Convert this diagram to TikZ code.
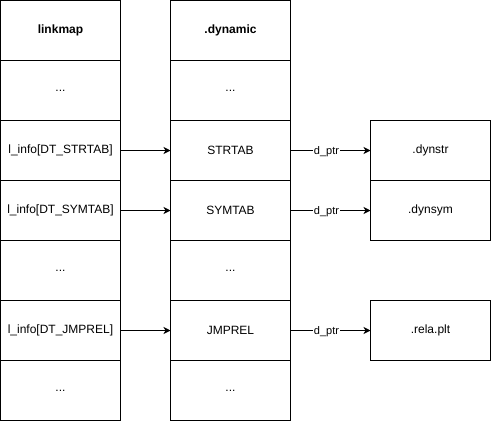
\documentclass[tikz,border=0pt]{standalone}
\usepackage{fontspec}
\setmainfont{Liberation Sans}
\usetikzlibrary{arrows.meta}
\begin{document}
\begin{tikzpicture}[x=1pt,y=-1pt,
  cell/.style={draw=black,line width=1pt,minimum width=120pt,minimum height=60pt,inner sep=0pt,outer sep=0pt,font=\fontsize{12}{14}\selectfont},
  head/.style={cell,font=\fontsize{12}{14}\selectfont\bfseries},
  conn/.style={line width=1pt,-{Stealth[length=7pt,width=7pt,inset=2pt]}},
  lbl/.style={fill=white,inner sep=1pt,pos=0.45,yshift=-1pt,font=\fontsize{11}{13}\selectfont}]
\useasboundingbox (0,0) rectangle (491,421);
% left column
\node[head] (l0) at (60.5,30.5) {linkmap};
\node[cell] (l1) at (60.5,90.5) {...};
\node[cell] (l2) at (60.5,150.5) {l\_info[DT\_STRTAB]};
\node[cell] (l3) at (60.5,210.5) {l\_info[DT\_SYMTAB]};
\node[cell] (l4) at (60.5,270.5) {...};
\node[cell] (l5) at (60.5,330.5) {l\_info[DT\_JMPREL]};
\node[cell] (l6) at (60.5,390.5) {...};
% middle column
\node[head] (m0) at (230.5,30.5) {.dynamic};
\node[cell] (m1) at (230.5,90.5) {...};
\node[cell] (m2) at (230.5,150.5) {STRTAB};
\node[cell] (m3) at (230.5,210.5) {SYMTAB};
\node[cell] (m4) at (230.5,270.5) {...};
\node[cell] (m5) at (230.5,330.5) {JMPREL};
\node[cell] (m6) at (230.5,390.5) {...};
% right boxes
\node[cell] (r2) at (430.5,150.5) {.dynstr};
\node[cell] (r3) at (430.5,210.5) {.dynsym};
\node[cell] (r5) at (430.5,330.5) {.rela.plt};
% connectors
\draw[conn] (l2.east) -- (m2.west);
\draw[conn] (l3.east) -- (m3.west);
\draw[conn] (l5.east) -- (m5.west);
\draw[conn] (m2.east) -- node[lbl] {d\_ptr} (r2.west);
\draw[conn] (m3.east) -- node[lbl] {d\_ptr} (r3.west);
\draw[conn] (m5.east) -- node[lbl] {d\_ptr} (r5.west);
\end{tikzpicture}
\end{document}
